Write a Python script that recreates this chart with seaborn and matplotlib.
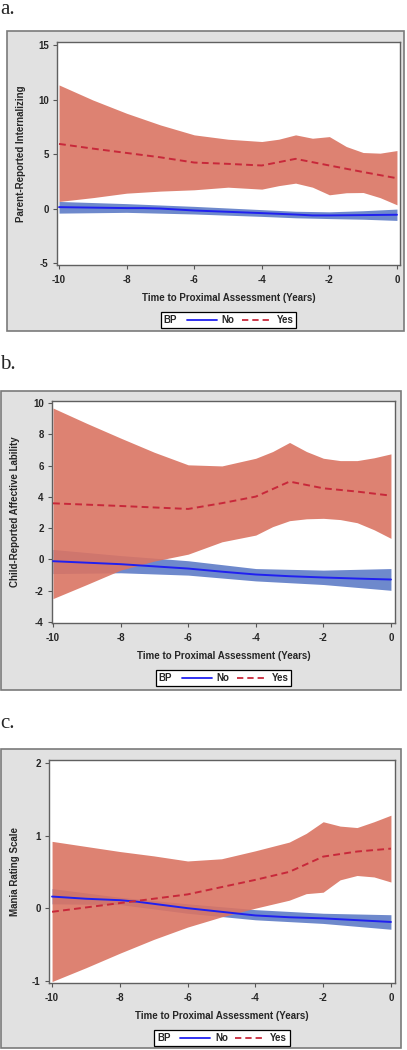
import matplotlib
matplotlib.use("Agg")
import pandas as pd
import seaborn as sns
from matplotlib import pyplot as plt
from matplotlib.lines import Line2D
from matplotlib.offsetbox import HPacker
from matplotlib.patches import Rectangle

W, H = 407, 1050

# ---- data ---------------------------------------------------------------
# panel a: parent-reported internalizing
A_YES_X = [-10, -9, -8, -7, -6, -5, -4, -3.5, -3, -2.5, -2, -1.5, -1, -0.5, 0]
A_YES_UP = [11.34, 9.96, 8.74, 7.67, 6.76, 6.36, 6.15, 6.36, 6.76, 6.45, 6.6, 5.69, 5.14, 5.08, 5.32]
A_YES_LO = [0.65, 1.0, 1.41, 1.6, 1.72, 1.96, 1.78, 2.1, 2.33, 1.96, 1.26, 1.45, 1.47, 1.0, 0.34]
A_YES_MX = [-10, -9, -8, -7, -6, -5, -4, -3, -2, -1, 0]
A_YES_MEAN = [5.93, 5.5, 5.1, 4.7, 4.22, 4.1, 3.95, 4.56, 3.95, 3.35, 2.78]
A_NO_X = [-10, -8, -7.5, -7, -6, -5, -4, -3, -2.5, -2, -1, 0]
A_NO_MEAN = [0.13, 0.04, 0.04, 0.0, -0.18, -0.3, -0.42, -0.55, -0.63, -0.63, -0.6, -0.57]
A_NO_BX = [-10, -8, -6, -4, -3, -2, -1, 0]
A_NO_UP = [0.65, 0.45, 0.2, -0.1, -0.25, -0.3, -0.2, -0.05]
A_NO_LO = [-0.42, -0.35, -0.5, -0.72, -0.85, -0.92, -0.98, -1.09]

# panel b: child-reported affective lability
B_YES_X = [-10, -9, -8, -7, -6, -5, -4, -3.5, -3, -2.5, -2, -1.5, -1, -0.5, 0]
B_YES_UP = [9.68, 8.7, 7.76, 6.85, 6.05, 5.98, 6.47, 6.9, 7.48, 6.9, 6.47, 6.32, 6.32, 6.5, 6.75]
B_YES_LO = [-2.5, -1.6, -0.68, -0.1, 0.34, 1.13, 1.56, 2.1, 2.48, 2.6, 2.63, 2.55, 2.35, 1.9, 1.35]
B_YES_MX = [-10, -8, -6, -5, -4, -3, -2, -1, 0]
B_YES_MEAN = [3.59, 3.42, 3.23, 3.6, 4.02, 4.98, 4.55, 4.34, 4.08]
B_NO_X = [-10, -8, -6, -5, -4, -3, -2, -1, 0]
B_NO_MEAN = [-0.11, -0.3, -0.58, -0.78, -0.96, -1.07, -1.15, -1.22, -1.28]
B_NO_BX = [-10, -8, -6, -4, -2, 0]
B_NO_UP = [0.64, 0.25, -0.08, -0.58, -0.68, -0.58]
B_NO_LO = [-0.9, -0.85, -1.0, -1.37, -1.6, -1.97]

# panel c: mania rating scale
C_YES_X = [-10, -9, -8, -7, -6, -5, -4, -3, -2.5, -2, -1.5, -1, -0.5, 0]
C_YES_UP = [0.92, 0.85, 0.78, 0.72, 0.65, 0.68, 0.79, 0.91, 1.03, 1.19, 1.13, 1.11, 1.19, 1.28]
C_YES_LO = [-1.01, -0.82, -0.62, -0.43, -0.26, -0.12, 0.0, 0.11, 0.2, 0.22, 0.39, 0.45, 0.43, 0.36]
C_YES_MX = [-10, -9, -8, -7, -6, -5, -4, -3, -2, -1, 0]
C_YES_MEAN = [-0.05, 0.01, 0.07, 0.13, 0.19, 0.29, 0.39, 0.5, 0.71, 0.78, 0.82]
C_NO_X = [-10, -9, -8, -7.5, -7, -6, -5, -4, -3, -2, -1, 0]
C_NO_MEAN = [0.16, 0.13, 0.11, 0.09, 0.06, 0.0, -0.05, -0.1, -0.125, -0.14, -0.165, -0.19]
C_NO_BX = [-10, -8, -6, -4, -2, 0]
C_NO_UP = [0.27, 0.15, 0.06, -0.02, -0.07, -0.09]
C_NO_LO = [0.06, 0.05, -0.07, -0.16, -0.21, -0.29]

YLABELS = ["Parent-Reported Internalizing", "Child-Reported Affective Lability",
           "Mania Rating Scale"]
YTICKS = [[-5, 0, 5, 10, 15], [-4, -2, 0, 2, 4, 6, 8, 10], [-1, 0, 1, 2]]
XTICKS = [-10, -8, -6, -4, -2, 0]
LETTERS = ["a.", "b.", "c."]

PANELS = [
    dict(yes=(A_YES_X, A_YES_UP, A_YES_LO, A_YES_MX, A_YES_MEAN),
         no=(A_NO_X, A_NO_MEAN, A_NO_BX, A_NO_UP, A_NO_LO)),
    dict(yes=(B_YES_X, B_YES_UP, B_YES_LO, B_YES_MX, B_YES_MEAN),
         no=(B_NO_X, B_NO_MEAN, B_NO_BX, B_NO_UP, B_NO_LO)),
    dict(yes=(C_YES_X, C_YES_UP, C_YES_LO, C_YES_MX, C_YES_MEAN),
         no=(C_NO_X, C_NO_MEAN, C_NO_BX, C_NO_UP, C_NO_LO)),
]

# ---- layout (pixels) -----------------------------------------------------
# box = grey frame, plot = axes area, lims from tick positions
LAYOUT = [
    dict(box=(7, 31, 404, 331), plot=(57, 42, 400, 265),
         xlim=(-10.06, 0.09), ylim=(-5.18, 15.28), letter_y=14, ylab=21),
    dict(box=(1, 391, 401, 690), plot=(52, 401, 395, 623),
         xlim=(-10.03, 0.12), ylim=(-4.06, 10.13), letter_y=369, ylab=15),
    dict(box=(1, 749, 401, 1048), plot=(49, 760, 395, 983),
         xlim=(-10.09, 0.12), ylim=(-1.03, 2.04), letter_y=728, ylab=15),
]

RED_BAND = "#DA7463"
BLUE_BAND = "#6E89CC"
BLUE_LINE = "#2020F0"
RED_LINE = "#C8283A"
FS = 7

sns.set_theme(style="white")
plt.rcParams["font.family"] = ["Liberation Sans", "DejaVu Sans"]
plt.rcParams["axes.unicode_minus"] = False


def fig_rect(x0, y0, x1, y1):
    return [x0 / W, 1 - y1 / H, (x1 - x0) / W, (y1 - y0) / H]


def main():
    fig = plt.figure(figsize=(W / 100, H / 100), dpi=100)

    for i, (panel, lay) in enumerate(zip(PANELS, LAYOUT)):
        bx, by, bw, bh = fig_rect(*lay["box"])
        fig.add_artist(Rectangle((bx, by), bw, bh, transform=fig.transFigure,
                                 facecolor="#E1E1E1", edgecolor="#7A7A7A",
                                 lw=1.2, zorder=-5))
        fig.text(0.0, 1 - lay["letter_y"] / H, LETTERS[i], family="Liberation Serif",
                 fontsize=15, va="baseline", ha="left")

        ax = fig.add_axes(fig_rect(*lay["plot"]))
        ax.set_facecolor("white")

        yx, yup, ylo, ymx, ymean = panel["yes"]
        nx, nmean, nbx, nup, nlo = panel["no"]

        ax.fill_between(nbx, nlo, nup, color=BLUE_BAND, lw=0, zorder=1)
        ax.fill_between(yx, ylo, yup, color=RED_BAND, lw=0, alpha=0.9, zorder=2)

        df = pd.concat([
            pd.DataFrame({"x": nx, "y": nmean, "BP": "No"}),
            pd.DataFrame({"x": ymx, "y": ymean, "BP": "Yes"}),
        ])
        sns.lineplot(data=df, x="x", y="y", hue="BP", style="BP",
                     palette={"No": BLUE_LINE, "Yes": RED_LINE},
                     dashes={"No": "", "Yes": (3.5, 2.2)},
                     linewidth=1.4, estimator=None, sort=False,
                     legend=False, ax=ax, zorder=3)

        ax.set_xlim(*lay["xlim"])
        ax.set_ylim(*lay["ylim"])
        ax.set_xticks(XTICKS)
        ax.set_yticks(YTICKS[i])
        ax.set_xticklabels([str(t) for t in XTICKS])
        ax.set_yticklabels([str(t) for t in YTICKS[i]])
        ax.tick_params(axis="both", direction="out", length=3, width=0.8,
                       color="#555555", labelsize=FS, bottom=True, left=True)
        ax.tick_params(axis="x", pad=4)
        ax.tick_params(axis="y", pad=3)
        for lab in ax.get_xticklabels() + ax.get_yticklabels():
            lab.set_fontweight("bold")
        for spine in ax.spines.values():
            spine.set_linewidth(1)
            spine.set_color("#606060")

        px0, py0, px1, py1 = lay["plot"]
        pw, ph = px1 - px0, py1 - py0
        ax.set_xlabel("Time to Proximal Assessment (Years)", fontsize=FS,
                      fontweight="bold", va="center")
        ax.set_ylabel(YLABELS[i], fontsize=FS, fontweight="bold", va="center")
        ax.xaxis.set_label_coords(0.5, -33 / ph)
        ax.yaxis.set_label_coords(-(px0 - lay["ylab"]) / pw, 0.5)

        handles = [Line2D([], [], color=BLUE_LINE, lw=1.3),
                   Line2D([], [], color=RED_LINE, lw=1.3, dashes=(3.5, 2.2))]
        leg = ax.legend(handles, ["No", "Yes"], title="BP", ncol=2,
                        loc="upper center", bbox_to_anchor=(0.5, -(47 / ph)),
                        prop={"size": FS, "weight": "bold"}, frameon=True,
                        fancybox=False, edgecolor="black", framealpha=1,
                        borderpad=0.3, handlelength=3.1, handletextpad=0.5,
                        columnspacing=0.7, borderaxespad=0)
        leg.get_title().set_fontsize(FS)
        leg.get_title().set_fontweight("bold")
        leg.get_frame().set_linewidth(0.9)
        # put the "BP" title to the left of the entries, on the same row
        old = leg._legend_box
        new = HPacker(pad=old.pad, sep=FS * 1.0, align="center",
                      children=old.get_children())
        new.set_figure(fig)
        new.axes = ax
        leg._legend_box = new
        new.set_offset(leg._findoffset)

    fig.savefig("out.png", dpi=100)


if __name__ == "__main__":
    main()
